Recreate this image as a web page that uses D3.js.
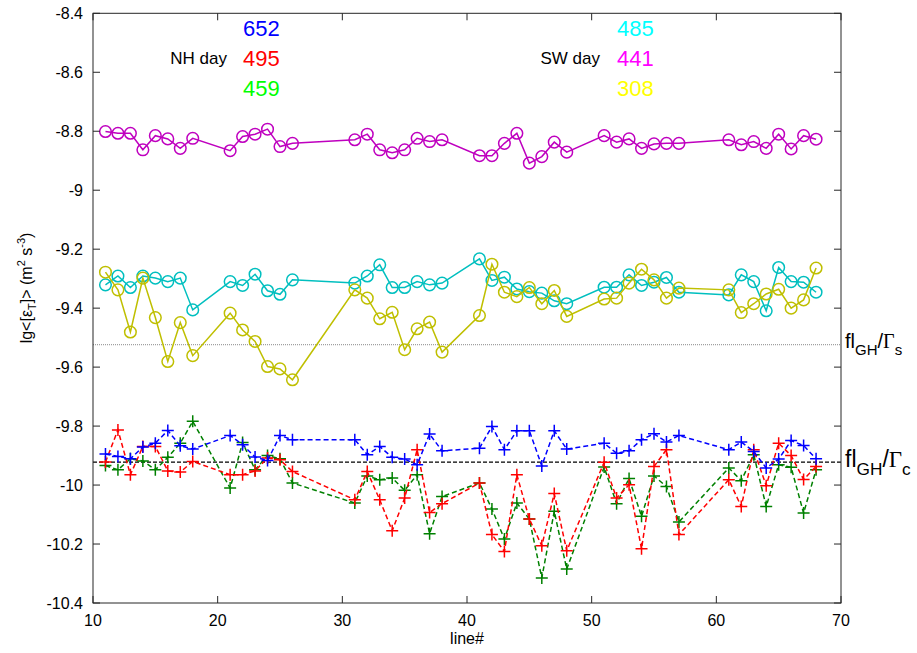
<!DOCTYPE html>
<html><head><meta charset="utf-8">
<script src="https://cdn.jsdelivr.net/npm/d3@7"></script>
<style>body{margin:0;background:#fff}svg{display:block}text{font-family:"Liberation Sans",Arial,sans-serif}</style>
</head><body><svg id="c" width="917" height="653"></svg>
<script>
const lines = [11,12,13,14,15,16,17,18,21,22,23,24,25,26,31,32,33,34,35,36,37,38,41,42,43,44,45,46,47,48,51,52,53,54,55,56,57,61,62,63,64,65,66,67,68];
const nhBlue = [-9.895,-9.903,-9.911,-9.871,-9.858,-9.815,-9.867,-9.878,-9.832,-9.863,-9.905,-9.917,-9.832,-9.846,-9.846,-9.897,-9.869,-9.906,-9.912,-9.931,-9.827,-9.884,
  -9.875,-9.801,-9.880,-9.816,-9.816,-9.935,-9.816,-9.878,-9.858,-9.892,-9.884,-9.846,-9.826,-9.854,-9.832,-9.880,-9.854,-9.886,-9.942,-9.912,-9.849,-9.866,-9.911];
const nhRed = [-9.922,-9.813,-9.965,-9.869,-9.869,-9.952,-9.956,-9.920,-9.965,-9.965,-9.952,-9.908,-9.914,-9.954,-10.050,-9.954,-10.050,-10.155,-10.044,-9.880,-10.093,-10.063,
  -9.993,-10.168,-10.225,-9.965,-10.115,-10.206,-10.029,-10.223,-9.923,-10.044,-9.999,-10.216,-9.937,-9.880,-10.168,-9.982,-10.073,-9.880,-10.002,-9.858,-9.900,-9.981,-9.937];
const nhGreen = [-9.934,-9.948,-9.911,-9.918,-9.948,-9.906,-9.858,-9.784,-10.010,-9.856,-9.948,-9.900,-9.911,-9.993,-10.061,-9.969,-9.982,-9.976,-10.018,-9.965,-10.165,-10.039,
  -9.993,-10.081,-10.183,-10.061,-10.115,-10.315,-10.089,-10.285,-9.939,-10.063,-9.978,-10.106,-9.969,-10.005,-10.125,-9.942,-9.985,-9.897,-10.073,-9.931,-9.940,-10.095,-9.948];
const swCyan = [-9.321,-9.291,-9.330,-9.291,-9.298,-9.310,-9.298,-9.406,-9.310,-9.323,-9.285,-9.341,-9.353,-9.304,-9.315,-9.291,-9.253,-9.330,-9.330,-9.310,-9.321,-9.315,
  -9.233,-9.306,-9.295,-9.335,-9.344,-9.349,-9.375,-9.385,-9.329,-9.329,-9.287,-9.323,-9.312,-9.296,-9.346,-9.355,-9.287,-9.310,-9.409,-9.262,-9.310,-9.312,-9.346];
const swMagenta = [-8.801,-8.807,-8.807,-8.863,-8.815,-8.826,-8.858,-8.824,-8.866,-8.818,-8.810,-8.793,-8.852,-8.841,-8.829,-8.810,-8.863,-8.873,-8.863,-8.824,-8.835,-8.829,
  -8.883,-8.883,-8.841,-8.807,-8.908,-8.886,-8.837,-8.871,-8.815,-8.837,-8.826,-8.858,-8.843,-8.841,-8.841,-8.829,-8.846,-8.835,-8.858,-8.810,-8.860,-8.815,-8.827];
const swYellow = [-9.278,-9.338,-9.481,-9.298,-9.432,-9.581,-9.449,-9.561,-9.417,-9.474,-9.513,-9.598,-9.606,-9.643,-9.338,-9.366,-9.436,-9.414,-9.541,-9.470,-9.447,-9.549,
  -9.425,-9.251,-9.346,-9.361,-9.330,-9.385,-9.340,-9.428,-9.369,-9.366,-9.315,-9.268,-9.304,-9.366,-9.332,-9.338,-9.415,-9.385,-9.352,-9.336,-9.400,-9.372,-9.264];
const refS = -9.524, refC = -9.922;
const xTicks = [10,20,30,40,50,60,70];
const yTicks = [-10.4,-10.2,-10,-9.8,-9.6,-9.4,-9.2,-9,-8.8,-8.6,-8.4];
const nhCounts = ["652","495","459"], swCounts = ["485","441","308"];

const svg = d3.select("#c");
const L=93, R=841, T=13.3, B=603;
const x = d3.scaleLinear().domain([10,70]).range([L,R]);
const y = d3.scaleLinear().domain([-10.4,-8.4]).range([B,T]);
const axC = "#262626";

// reference lines
svg.append("line").attr("x1",L).attr("x2",R).attr("y1",y(refS)).attr("y2",y(refS))
  .attr("stroke","#888").attr("stroke-width",1).attr("stroke-dasharray","1,1");
svg.append("line").attr("x1",L).attr("x2",R).attr("y1",y(refC)).attr("y2",y(refC))
  .attr("stroke","#000").attr("stroke-width",1.3).attr("stroke-dasharray","4,2");

const lineGen = d3.line().x(d=>x(d[0])).y(d=>y(d[1]));
function series(vals, color, marker, dashed){
  const data = lines.map((l,i)=>[l, vals[i]]);
  const g = svg.append("g");
  g.append("path").attr("d", lineGen(data)).attr("fill","none").attr("stroke",color)
    .attr("stroke-width",1.5).attr("stroke-dasharray", dashed?"5,3":null);
  if(marker==="o"){
    g.selectAll("circle").data(data).join("circle").attr("cx",d=>x(d[0])).attr("cy",d=>y(d[1]))
      .attr("r",5.8).attr("fill","none").attr("stroke",color).attr("stroke-width",1.5);
  } else {
    const s=6;
    g.selectAll("path.p").data(data).join("path").attr("class","p")
      .attr("d",d=>`M${x(d[0])-s},${y(d[1])}H${x(d[0])+s}M${x(d[0])},${y(d[1])-s}V${y(d[1])+s}`)
      .attr("stroke",color).attr("stroke-width",1.5);
  }
}
series(nhGreen,"#008000","+",true);
series(nhRed,"#ff0000","+",true);
series(nhBlue,"#0000ff","+",true);
series(swMagenta,"#bf00bf","o",false);
series(swCyan,"#00bfbf","o",false);
series(swYellow,"#bfbf00","o",false);

// frame
svg.append("rect").attr("x",L).attr("y",T).attr("width",R-L).attr("height",B-T)
  .attr("fill","none").attr("stroke",axC).attr("stroke-width",1);
const tl=7;
xTicks.forEach(t=>{
  svg.append("line").attr("x1",x(t)).attr("x2",x(t)).attr("y1",B).attr("y2",B-tl).attr("stroke",axC);
  svg.append("line").attr("x1",x(t)).attr("x2",x(t)).attr("y1",T).attr("y2",T+tl).attr("stroke",axC);
  svg.append("text").attr("x",x(t)).attr("y",B+23).attr("text-anchor","middle").attr("font-size",16).text(t);
});
yTicks.forEach(t=>{
  svg.append("line").attr("x1",L).attr("x2",L+tl).attr("y1",y(t)).attr("y2",y(t)).attr("stroke",axC);
  svg.append("line").attr("x1",R).attr("x2",R-tl).attr("y1",y(t)).attr("y2",y(t)).attr("stroke",axC);
  svg.append("text").attr("x",L-10).attr("y",y(t)+6).attr("text-anchor","end").attr("font-size",16)
    .text(String(+t.toFixed(1)));
});
svg.append("text").attr("x",(L+R)/2).attr("y",644).attr("text-anchor","middle").attr("font-size",16).text("line#");

// y label
const yl = svg.append("text").attr("transform","translate(32,288) rotate(-90)").attr("text-anchor","middle").attr("font-size",16);
yl.append("tspan").text("lg<[ε");
yl.append("tspan").attr("font-size",11).attr("dy",4).text("T");
yl.append("tspan").attr("dy",-4).text("]> (m");
yl.append("tspan").attr("font-size",11).attr("dy",-7).text("2");
yl.append("tspan").attr("dy",7).text(" s");
yl.append("tspan").attr("font-size",11).attr("dy",-7).text("-3");
yl.append("tspan").attr("dy",7).text(")");

// annotations
const nhCol=["#0000ff","#ff0000","#00ff00"], swCol=["#00ffff","#ff00ff","#ffff00"];
const rowsY=[36,66,96];
nhCounts.forEach((c,i)=>svg.append("text").attr("x",243).attr("y",rowsY[i]).attr("font-size",22).attr("fill",nhCol[i]).text(c));
swCounts.forEach((c,i)=>svg.append("text").attr("x",617).attr("y",rowsY[i]).attr("font-size",22).attr("fill",swCol[i]).text(c));
svg.append("text").attr("x",227).attr("y",64).attr("text-anchor","end").attr("font-size",17).text("NH day");
svg.append("text").attr("x",600).attr("y",64).attr("text-anchor","end").attr("font-size",17).text("SW day");

// ref labels
function refLabel(yy, sub, fs){
  const t = svg.append("text").attr("x",845).attr("y",yy).attr("font-size",fs);
  t.append("tspan").text("fl");
  t.append("tspan").attr("font-size",fs*0.75).attr("dy",fs*0.35).text("GH");
  t.append("tspan").attr("dy",-fs*0.35).text("/");
  t.append("tspan").attr("font-family","'Liberation Serif','DejaVu Serif',serif").text("Γ");
  t.append("tspan").attr("font-size",fs*0.75).attr("dy",fs*0.35).text(sub);
}
refLabel(348,"s",20);
refLabel(467,"c",23);
</script></body></html>
